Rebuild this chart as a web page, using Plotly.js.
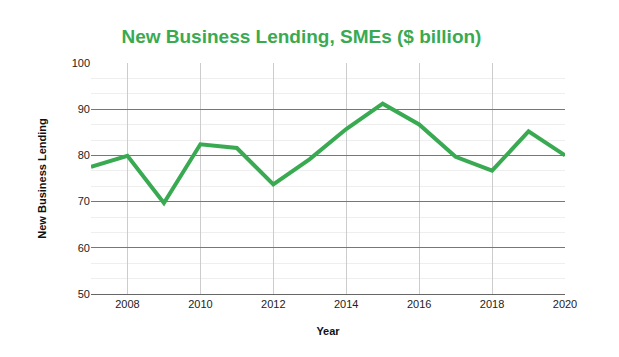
<!DOCTYPE html>
<html><head><meta charset="utf-8">
<script src="https://cdn.plot.ly/plotly-3.0.1.min.js"></script>
<style>html,body{margin:0;padding:0;background:#fff}</style>
</head><body>
<div id="chart" style="width:619px;height:357px"></div>
<script>
const years = [2007,2008,2009,2010,2011,2012,2013,2014,2015,2016,2017,2018,2019,2020];
const lending = [77.5,79.9,69.7,82.4,81.6,73.7,79.2,85.7,91.2,86.7,79.7,76.7,85.2,80.0];
const yTicks = [50,60,70,80,90,100];
const xTicks = [2008,2010,2012,2014,2016,2018,2020];

const trace = {
  x: years, y: lending, type: 'scatter', mode: 'lines',
  line: {color: '#3aaa52', width: 4}, hoverinfo: 'x+y'
};
const layout = {
  width: 619, height: 357,
  margin: {l: 91, r: 54, t: 63, b: 63},
  paper_bgcolor: '#fff', plot_bgcolor: '#fff',
  showlegend: false,
  title: {text: '<b>New Business Lending, SMEs ($ billion)</b>', x: 0.487, xanchor: 'center', y: 0.897, yanchor: 'middle',
          font: {family: 'Liberation Sans, Arial, sans-serif', size: 19, color: '#3aaa52'}},
  xaxis: {
    range: [2007, 2020], tickvals: xTicks, ticktext: xTicks.map(String),
    showgrid: true, gridcolor: '#cccccc', gridwidth: 1,
    showline: true, linecolor: '#666', linewidth: 1, zeroline: false,
    ticks: '', tickfont: {family: 'Liberation Sans, Arial, sans-serif', size: 11, color: '#222'},
    title: {text: '<b>Year</b>', standoff: 18, font: {family: 'Liberation Sans, Arial, sans-serif', size: 11, color: '#111'}}
  },
  yaxis: {
    range: [50, 100], tickvals: yTicks, ticktext: yTicks.map(String),
    showgrid: true, gridcolor: '#777777', gridwidth: 1, zeroline: false,
    showline: false, ticks: '',
    minor: {tick0: 50, dtick: 10/3, showgrid: true, gridcolor: '#eeeeee', gridwidth: 1, ticks: ''},
    tickfont: {family: 'Liberation Sans, Arial, sans-serif', size: 11, color: '#222'},
    title: {text: '<b>New Business Lending</b>', standoff: 22, font: {family: 'Liberation Sans, Arial, sans-serif', size: 11, color: '#111'}}
  }
};
Plotly.newPlot('chart', [trace], layout, {displayModeBar: false, staticPlot: true});
</script>
</body></html>
